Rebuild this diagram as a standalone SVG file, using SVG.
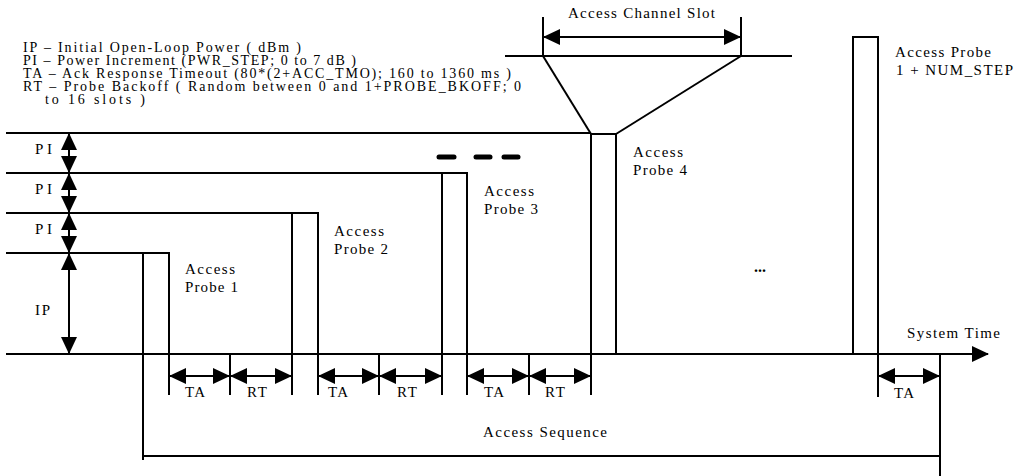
<svg xmlns="http://www.w3.org/2000/svg" width="1017" height="476" viewBox="0 0 1017 476">
<style>
text{font-family:"Liberation Serif","Times New Roman",serif;font-size:15px;fill:#000}
.lg{font-size:14px}
.ln{stroke:#000;stroke-width:2;fill:none}
.ar{stroke:#000;stroke-width:2;fill:none;marker-start:url(#ah);marker-end:url(#ah)}
.dash{stroke:#000;stroke-width:5;stroke-linecap:round}
</style>
<defs>
<marker id="ah" markerUnits="userSpaceOnUse" markerWidth="17" markerHeight="16" refX="16" refY="8" orient="auto-start-reverse" viewBox="0 0 17 16">
<path d="M0,0 L17,8 L0,16 Z" fill="#000"/>
</marker>
</defs>
<rect width="1017" height="476" fill="#fff"/>

<g id="legend">
<text class="lg" x="23" y="52" textLength="278" lengthAdjust="spacing">IP – Initial Open-Loop Power ( dBm )</text>
<text class="lg" x="23" y="65" textLength="333" lengthAdjust="spacing">PI – Power Increment (PWR_STEP; 0 to 7 dB )</text>
<text class="lg" x="23" y="78" textLength="488" lengthAdjust="spacing">TA – Ack Response Timeout (80*(2+ACC_TMO); 160 to 1360 ms )</text>
<text class="lg" x="23" y="91" textLength="498" lengthAdjust="spacing">RT – Probe Backoff ( Random between 0 and 1+PROBE_BKOFF; 0</text>
<text class="lg" x="45" y="104" textLength="100" lengthAdjust="spacing">to 16 slots )</text>
</g>

<g id="power-levels">
<line class="ln" x1="6" y1="133" x2="591" y2="133"/>
<line class="ln" x1="6" y1="173" x2="467" y2="173"/>
<line class="ln" x1="6" y1="213" x2="318" y2="213"/>
<line class="ln" x1="6" y1="253" x2="169" y2="253"/>
<text x="35" y="154" textLength="17" lengthAdjust="spacing">PI</text>
<text x="35" y="194" textLength="17" lengthAdjust="spacing">PI</text>
<text x="35" y="234" textLength="17" lengthAdjust="spacing">PI</text>
<text x="35" y="315" textLength="15" lengthAdjust="spacing">IP</text>
</g>

<g id="probe1">
<path class="ln" d="M143,460 V253 H169 V395"/>
<text x="185" y="274" textLength="50" lengthAdjust="spacing">Access</text>
<text x="185" y="292" textLength="53" lengthAdjust="spacing">Probe 1</text>
</g>

<g id="probe2">
<path class="ln" d="M292,395 V213 H318 V395"/>
<text x="334" y="236" textLength="50" lengthAdjust="spacing">Access</text>
<text x="334" y="254" textLength="54" lengthAdjust="spacing">Probe 2</text>
</g>

<g id="probe3">
<path class="ln" d="M442,395 V173 H467 V395"/>
<text x="484" y="196" textLength="50" lengthAdjust="spacing">Access</text>
<text x="484" y="214" textLength="54" lengthAdjust="spacing">Probe 3</text>
</g>

<g id="probe4">
<path class="ln" d="M591,395 V134 H616 V354"/>
<text x="633" y="157" textLength="50" lengthAdjust="spacing">Access</text>
<text x="633" y="175" textLength="54" lengthAdjust="spacing">Probe 4</text>
</g>

<g id="probeN">
<path class="ln" d="M853,354 V37 H878 V397"/>
<text x="895" y="57" textLength="96" lengthAdjust="spacing">Access Probe</text>
<text x="896" y="75" textLength="117" lengthAdjust="spacing">1 + NUM_STEP</text>
</g>

<g id="access-channel-slot">
<line class="ln" x1="505" y1="56" x2="792" y2="56"/>
<line class="ln" x1="543" y1="17" x2="543" y2="56"/>
<line class="ln" x1="741" y1="17" x2="741" y2="56"/>
<line class="ln" x1="543" y1="56" x2="591" y2="134"/>
<line class="ln" x1="741" y1="56" x2="616" y2="134"/>
<text x="568" y="18" textLength="147" lengthAdjust="spacing">Access Channel Slot</text>
</g>

<g id="ellipsis">
<line class="dash" x1="439" y1="157" x2="454" y2="157"/>
<line class="dash" x1="476" y1="157" x2="490" y2="157"/>
<line class="dash" x1="504" y1="157" x2="518" y2="157"/>
<text x="754" y="272" style="font-weight:bold;font-size:16px">...</text>
</g>

<g id="access-sequence">
<line class="ln" x1="143" y1="456" x2="940" y2="456"/>
<line class="ln" x1="940" y1="354" x2="940" y2="476"/>
<text x="483" y="437" textLength="124" lengthAdjust="spacing">Access Sequence</text>
</g>

<g id="time-axis">
<line class="ln" x1="6" y1="354" x2="988" y2="354" style="marker-end:url(#ah)"/>
<text x="907" y="338" textLength="93" lengthAdjust="spacing">System Time</text>
</g>

<g id="connectors">
<line class="ar" x1="69" y1="134" x2="69" y2="172"/>
<line class="ar" x1="69" y1="174" x2="69" y2="212"/>
<line class="ar" x1="69" y1="214" x2="69" y2="252"/>
<line class="ar" x1="69" y1="254" x2="69" y2="353"/>
<line class="ar" x1="544" y1="37" x2="740" y2="37"/>
<line class="ln" x1="230" y1="354" x2="230" y2="395"/>
<line class="ln" x1="379" y1="354" x2="379" y2="395"/>
<line class="ln" x1="529" y1="354" x2="529" y2="395"/>
<line class="ar" x1="170" y1="376" x2="229" y2="376"/>
<line class="ar" x1="231" y1="376" x2="291" y2="376"/>
<line class="ar" x1="319" y1="376" x2="378" y2="376"/>
<line class="ar" x1="380" y1="376" x2="441" y2="376"/>
<line class="ar" x1="468" y1="376" x2="528" y2="376"/>
<line class="ar" x1="530" y1="376" x2="590" y2="376"/>
<line class="ar" x1="879" y1="376" x2="939" y2="376"/>
</g>

<g id="interval-labels">
<text x="185" y="397" textLength="20" lengthAdjust="spacing">TA</text>
<text x="247" y="397" textLength="20" lengthAdjust="spacing">RT</text>
<text x="328" y="397" textLength="20" lengthAdjust="spacing">TA</text>
<text x="397" y="397" textLength="20" lengthAdjust="spacing">RT</text>
<text x="484" y="397" textLength="20" lengthAdjust="spacing">TA</text>
<text x="545" y="397" textLength="20" lengthAdjust="spacing">RT</text>
<text x="894" y="398" textLength="20" lengthAdjust="spacing">TA</text>
</g>
</svg>
